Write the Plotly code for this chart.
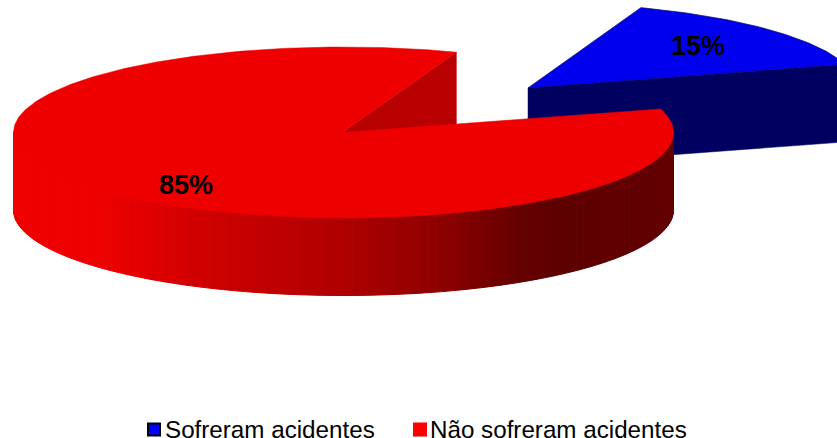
import numpy as np
import plotly.graph_objects as go

# ---- data ----
categories = ["Sofreram acidentes", "Não sofreram acidentes"]
values = [15, 85]

# ---- styling / geometry of the projected 3-D pie ----
FIRST_ANGLE = 20.0           # first slice angle, clockwise from 12 o'clock
CX, CY = 342.0, 132.5        # apex of the red slice on the canvas
RIM_CX = 343.5               # centre of the red rim ellipse
RX, RY = 330.0, 85.5
DEPTH = 77.5
BLUE_APEX = (528.0, 88.0)    # apex of the separated slice
TOP = ["#0000EE", "#EE0000"]
WALL = ["#000060", "#B80000"]
KEY = ["#0000FF", "#FF0000"]
KEY_EDGE = ["#000000", "#FF0000"]
RAMP_X = [0, 100, 200, 340, 450, 520, 560, 673, 840]
RAMP_R = [238, 238, 208, 176, 138, 100, 94, 98, 98]
LABEL_POS = [(698, 48), (186, 187)]
KEY_POS = [(154, 429.5), (420, 429.5)]
KEY_TEXT_X = [165, 430]
KEY_TEXT_Y = 431.5
FONT = "Liberation Sans"


def rim(cx, cy, t_deg):
    t = np.radians(t_deg)
    return cx + RX * np.cos(t), cy + RY * np.sin(t) * -1


def poly(fig, x, y, fill, line=None, lw=0.0):
    fig.add_trace(go.Scatter(
        x=list(x), y=list(y), mode="lines", fill="toself", fillcolor=fill,
        line=dict(color=line or fill, width=lw), hoverinfo="skip", showlegend=False,
    ))


fig = go.Figure()

# angle ranges derived from the values (math angle, decreasing = clockwise)
total = sum(values)
spans = [v / total * 360 for v in values]
start_blue = 90 - FIRST_ANGLE
end_blue = start_blue - spans[0]
start_red = end_blue
end_red = start_red - spans[1]

# ---- blue slice (separated) ----
bx, by = BLUE_APEX
ex, ey = rim(bx, by, end_blue)
poly(fig, [bx, ex, ex, bx, bx], [by, ey, ey + DEPTH, by + DEPTH, by], WALL[0], WALL[0], 0.5)
t = np.linspace(start_blue, end_blue, 80)
ax, ay = rim(bx, by, t)
poly(fig, np.r_[bx, ax, bx], np.r_[by, ay, by], TOP[0], "#000060", 0.7)

# ---- red slice ----
sx, sy = rim(RIM_CX, CY, end_red)   # inner wall seen through the gap
poly(fig, [CX, sx, sx, CX, CX], [CY, sy, sy + DEPTH, CY + DEPTH, CY], WALL[1], WALL[1], 0.5)

# outer side, shaded strip by strip along x; tucked under the top face
edges = np.linspace(180, 360, 121)
for a, b in zip(edges[:-1], edges[1:]):
    seg = np.linspace(a, b, 3)
    x, y = rim(RIM_CX, CY, seg)
    mid = x.mean()
    r = int(round(np.interp(mid, RAMP_X, RAMP_R)))
    col = f"rgb({r},0,0)"
    upper = y - np.minimum(4.0, y - CY)
    poly(fig, np.r_[x, x[::-1], x[0]], np.r_[upper, y[::-1] + DEPTH, upper[0]], col, col, 1)

t = np.linspace(start_red, end_red, 300)
ax, ay = rim(RIM_CX, CY, t)
poly(fig, np.r_[CX, ax, CX], np.r_[CY, ay, CY], TOP[1], TOP[1], 0.5)

# ---- percentage labels ----
for v, (lx, ly) in zip(values, LABEL_POS):
    fig.add_trace(go.Scatter(
        x=[lx], y=[ly], mode="text", text=[f"{v}%"], textposition="middle center",
        textfont=dict(family=FONT, size=27, color="#000000", weight="bold"),
        hoverinfo="skip", showlegend=False,
    ))

# ---- key ----
for name, c, e, (kx, ky), tx in zip(categories, KEY, KEY_EDGE, KEY_POS, KEY_TEXT_X):
    fig.add_trace(go.Scatter(
        x=[kx], y=[ky], mode="markers",
        marker=dict(symbol="square", size=12, color=c, line=dict(color=e, width=2)),
        hoverinfo="skip", showlegend=False, cliponaxis=False,
    ))
    fig.add_trace(go.Scatter(
        x=[tx], y=[KEY_TEXT_Y], mode="text", text=[name], textposition="middle right",
        textfont=dict(family=FONT, size=24.2, color="#000000"),
        hoverinfo="skip", showlegend=False, cliponaxis=False,
    ))

fig.update_layout(
    width=837, height=438, autosize=False,
    margin=dict(l=0, r=0, t=0, b=0),
    paper_bgcolor="#FFFFFF", plot_bgcolor="#FFFFFF",
    showlegend=False,
    xaxis=dict(range=[0, 837], visible=False, fixedrange=True),
    yaxis=dict(range=[438, 0], visible=False, fixedrange=True),
)
fig.write_html("out.html", config={"displayModeBar": False},
               post_script="document.body.style.margin='0';")
